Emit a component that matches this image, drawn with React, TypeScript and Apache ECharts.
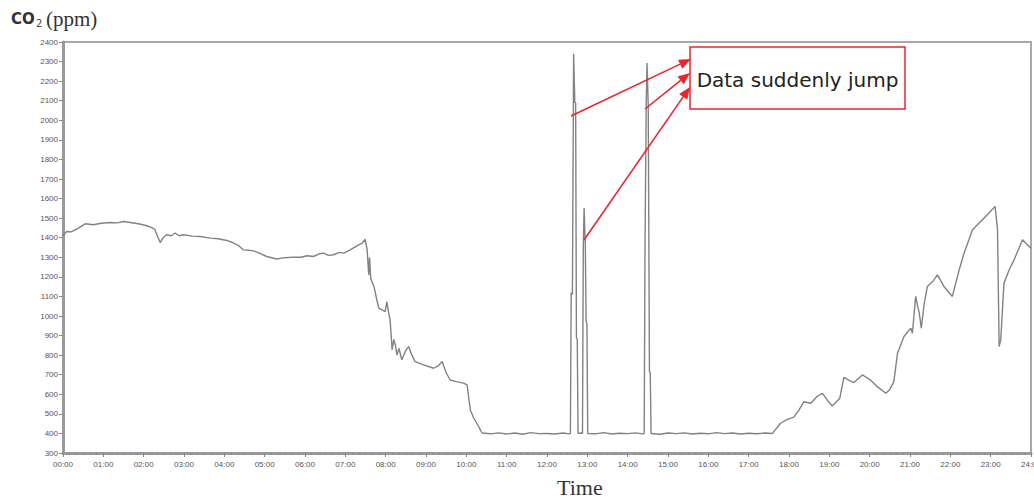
import React, { useEffect, useRef } from "react";
import * as echarts from "echarts";

// time of day in hours
const hours: number[] = [
  0.0, 0.09, 0.2, 0.34, 0.55, 0.75, 0.95, 1.17, 1.35, 1.5, 1.75, 1.9, 2.08, 2.2, 2.28, 2.36, 2.41, 2.48, 2.57, 2.68,
  2.78, 2.88, 2.99, 3.2, 3.4, 3.65, 3.85, 4.06, 4.23, 4.35, 4.47, 4.6, 4.72, 4.88, 5.05, 5.3, 5.5, 5.71, 5.9, 6.05,
  6.21, 6.35, 6.46, 6.58, 6.71, 6.85, 6.96, 7.12, 7.3, 7.42, 7.49, 7.54, 7.58, 7.6, 7.63, 7.71, 7.78, 7.83, 7.92, 7.99,
  8.03, 8.07, 8.11, 8.16, 8.2, 8.24, 8.28, 8.33, 8.4, 8.49, 8.57, 8.65, 8.73, 8.94, 9.19, 9.3, 9.4, 9.5, 9.6, 9.75,
  9.93, 10.02, 10.06, 10.1, 10.18, 10.26, 10.33, 10.39, 10.6, 10.8, 11.0, 11.2, 11.4, 11.6, 11.8, 12.0, 12.2, 12.4, 12.55,
  12.58, 12.6, 12.63, 12.66, 12.69, 12.71, 12.73, 12.75, 12.77, 12.85,
  12.88, 12.9, 12.92, 12.95, 12.97, 12.99, 13.01,
  13.2, 13.4, 13.6, 13.8, 14.0, 14.2, 14.38,
  14.41, 14.43, 14.46, 14.48, 14.51, 14.54, 14.56, 14.58,
  14.8, 15.0, 15.2, 15.4, 15.6, 15.8, 16.0, 16.2, 16.4, 16.6, 16.8, 17.0, 17.2, 17.4, 17.59,
  17.79, 17.96, 18.12, 18.25, 18.37, 18.54, 18.7, 18.83, 18.95, 19.07, 19.26, 19.36, 19.48, 19.61, 19.82, 20.02, 20.19,
  20.4, 20.5, 20.6, 20.69, 20.85, 21.02, 21.06, 21.14, 21.19, 21.23, 21.28, 21.35, 21.43, 21.56, 21.68, 21.84, 22.05,
  22.22, 22.34, 22.55, 22.75, 22.96, 23.11, 23.17, 23.21, 23.25, 23.33, 23.46, 23.58, 23.79, 23.91, 24.0,
];

// CO2 concentration (ppm)
const co2: number[] = [
  1410, 1432, 1430, 1444, 1471, 1466, 1474, 1478, 1476, 1483, 1475, 1470, 1461, 1452, 1441, 1400, 1375, 1400, 1415, 1410,
  1424, 1410, 1415, 1408, 1406, 1398, 1395, 1386, 1373, 1360, 1338, 1336, 1333, 1320, 1304, 1291, 1298, 1301, 1300, 1308,
  1304, 1318, 1321, 1310, 1313, 1325, 1321, 1338, 1360, 1372, 1392, 1340, 1210, 1300, 1190, 1151, 1083, 1040, 1030, 1023,
  1074, 1020, 980, 827, 880, 852, 800, 835, 776, 820, 844, 800, 767, 750, 733, 745, 767, 710, 673, 665,
  657, 648, 580, 520, 480, 452, 425, 402, 398, 403, 397, 402, 396, 404, 399, 400, 397, 402, 398,
  400, 1120, 1110, 2340, 2090, 2090, 890, 880, 400, 402,
  400, 1360, 1552, 1360, 970, 960, 400,
  398, 404, 397, 401, 399, 403, 398,
  400, 1350, 2080, 2293, 2080, 716, 710, 400,
  396, 402, 399, 403, 397, 401, 398, 404, 399, 402, 397, 401, 398, 402, 400,
  452, 472, 483, 520, 562, 554, 590, 605, 570, 540, 580, 687, 672, 660, 699, 673, 639,
  605, 625, 665, 810, 895, 938, 912, 1100, 1050, 1015, 938, 1060, 1151, 1176, 1210, 1151, 1100,
  1236, 1321, 1441, 1483, 1526, 1560, 1441, 844, 878, 1168, 1236, 1287, 1390, 1364, 1345,
];

const annotationText = "Data suddenly jump";
const yTitleMain = "CO";
const yTitleSub = "2";
const yTitleUnit = "(ppm)";
const xTitle = "Time";

const RED = "#e8262b";

function arrow(x1: number, y1: number, x2: number, y2: number): any[] {
  const ang = Math.atan2(y2 - y1, x2 - x1);
  const len = 12;
  const half = 5;
  const bx = x2 - len * Math.cos(ang);
  const by = y2 - len * Math.sin(ang);
  const px = -Math.sin(ang) * half;
  const py = Math.cos(ang) * half;
  return [
    {
      type: "line",
      shape: { x1, y1, x2: bx, y2: by },
      style: { stroke: RED, lineWidth: 1.6 },
      z: 100,
    },
    {
      type: "polygon",
      shape: { points: [[x2, y2], [bx + px, by + py], [bx - px, by - py]] },
      style: { fill: RED },
      z: 100,
    },
  ];
}

export default function App() {
  const ref = useRef<HTMLDivElement>(null);
  useEffect(() => {
    if (!ref.current) return;
    const chart = echarts.init(ref.current, null, { renderer: "svg" });
    const data = hours.map((h, i) => [h, co2[i]]);
    const pad = (n: number) => (n < 10 ? "0" + n : "" + n);
    chart.setOption({
      animation: false,
      backgroundColor: "#ffffff",
      grid: {
        left: 63,
        right: 3,
        top: 42,
        bottom: 45,
        containLabel: false,
        outerBoundsMode: "none",
        show: true,
        borderColor: "#a9a9a9",
        borderWidth: 2,
      },
      xAxis: {
        type: "value",
        min: 0,
        max: 24,
        interval: 1,
        axisLine: { lineStyle: { color: "#9a9a9a", width: 3 } },
        axisTick: { show: true, length: 4, lineStyle: { color: "#888", width: 1 } },
        minorTick: { show: true, splitNumber: 6, length: 2, lineStyle: { color: "#888" } },
        splitLine: { show: false },
        axisLabel: {
          fontSize: 8,
          color: "#555",
          fontFamily: "Liberation Sans, Arial, sans-serif",
          margin: 7,
          formatter: (v: number) => pad(v) + ":00",
        },
      },
      yAxis: {
        type: "value",
        min: 300,
        max: 2400,
        interval: 100,
        axisLine: { show: true, lineStyle: { color: "#9a9a9a", width: 3 } },
        axisTick: { show: true, length: 4, lineStyle: { color: "#888" } },
        splitLine: { show: false },
        axisLabel: {
          fontSize: 8,
          color: "#555",
          fontFamily: "Liberation Sans, Arial, sans-serif",
          margin: 5,
          formatter: (v: number) => String(v),
        },
      },
      series: [
        {
          type: "line",
          data,
          showSymbol: false,
          symbol: "none",
          lineStyle: { color: "#828282", width: 1.4 },
        },
      ],
      graphic: [
        {
          type: "text",
          x: 11,
          y: 19,
          style: {
            text: yTitleMain,
            fontSize: 15,
            fontWeight: "bold",
            fontFamily: "DejaVu Sans, sans-serif",
            fill: "#333",
            verticalAlign: "middle",
          },
        },
        {
          type: "text",
          x: 36,
          y: 23,
          style: {
            text: yTitleSub,
            fontSize: 10,
            fontFamily: "DejaVu Sans, sans-serif",
            fill: "#444",
            verticalAlign: "middle",
          },
        },
        {
          type: "text",
          x: 46,
          y: 19,
          style: {
            text: yTitleUnit,
            fontSize: 21,
            fontFamily: "Liberation Serif, serif",
            fill: "#333",
            verticalAlign: "middle",
          },
        },
        {
          type: "text",
          x: 557,
          y: 487,
          style: {
            text: xTitle,
            fontSize: 22,
            fontFamily: "Liberation Serif, serif",
            fill: "#333",
            verticalAlign: "middle",
          },
        },
        {
          type: "rect",
          shape: { x: 690, y: 47, width: 215, height: 62 },
          style: { fill: "#ffffff", stroke: RED, lineWidth: 1.5 },
          z: 90,
        },
        {
          type: "text",
          x: 797.5,
          y: 80,
          style: {
            text: annotationText,
            fontSize: 20,
            fontFamily: "DejaVu Sans, sans-serif",
            fill: "#222",
            align: "center",
            verticalAlign: "middle",
          },
          z: 95,
        },
        ...arrow(571, 116, 691, 59),
        ...arrow(645, 109, 690, 73),
        ...arrow(584, 240, 690, 87),
      ],
    });
    return () => chart.dispose();
  }, []);
  return (
    <div
      ref={ref}
      style={{ position: "absolute", left: 0, top: 0, width: 1034, height: 498 }}
    />
  );
}
